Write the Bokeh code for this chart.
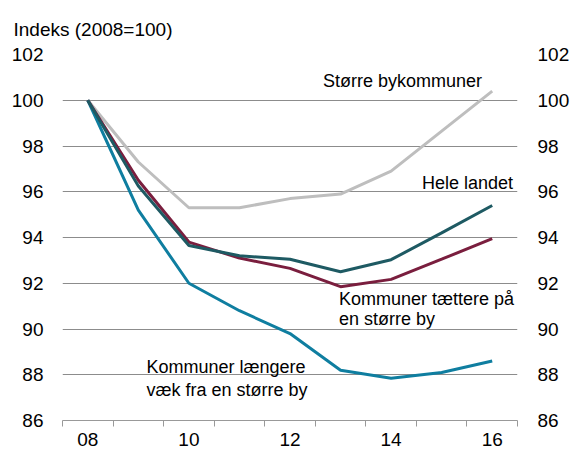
from bokeh.plotting import figure
from bokeh.models import Range1d, LinearAxis, FixedTicker, Label
from bokeh.embed import file_html
from bokeh.resources import INLINE

years = [2008, 2009, 2010, 2011, 2012, 2013, 2014, 2015, 2016]
storre_bykommuner = [100, 97.3, 95.3, 95.3, 95.7, 95.9, 96.9, 98.65, 100.4]
hele_landet = [100, 96.25, 93.65, 93.2, 93.05, 92.5, 93.03, 94.2, 95.4]
taettere = [100, 96.5, 93.8, 93.1, 92.65, 91.85, 92.17, 93.05, 93.95]
laengere = [100, 95.2, 92.0, 90.8, 89.8, 88.2, 87.85, 88.1, 88.6]

x_tick_values = [2008, 2010, 2012, 2014, 2016]
x_tick_labels = ["08", "10", "12", "14", "16"]
y_ticks = [86, 88, 90, 92, 94, 96, 98, 100, 102]

FONT = "Liberation Sans"

p = figure(frame_width=455, frame_height=366, output_backend="svg", toolbar_location=None,
           x_range=Range1d(2007.5, 2016.5), y_range=Range1d(86, 102),
           min_border_left=62, min_border_right=0, min_border_top=54, min_border_bottom=0,
           title="Indeks (2008=100)")
p.outline_line_color = None
p.background_fill_color = "white"
p.border_fill_color = "white"

p.title.text_font = FONT
p.title.text_font_size = "19px"
p.title.text_font_style = "normal"
p.title.text_color = "black"
p.title.align = "left"
p.title.offset = -49
p.title.standoff = 30

# grid
p.xgrid.grid_line_color = None
p.ygrid.ticker = FixedTicker(ticks=y_ticks)
p.ygrid.grid_line_color = "#8c8c8c"
p.ygrid.grid_line_width = 1

# x axis
xa = p.xaxis[0]
xa.ticker = FixedTicker(ticks=x_tick_values, minor_ticks=[y + 0.5 for y in range(2007, 2017)])
xa.major_label_overrides = {v: l for v, l in zip(x_tick_values, x_tick_labels)}
xa.major_tick_out = 0
xa.major_tick_in = 0
xa.minor_tick_out = 6
xa.minor_tick_in = 0
xa.minor_tick_line_color = "#999999"
xa.axis_line_color = "#999999"
xa.major_label_text_font = FONT
xa.major_label_text_font_size = "19px"
xa.major_label_text_color = "black"
xa.major_label_standoff = 6

# y axes
ya = p.yaxis[0]
ya.ticker = FixedTicker(ticks=y_ticks)
ya.axis_line_color = None
ya.major_tick_line_color = None
ya.major_tick_out = 0
ya.major_tick_in = 0
ya.minor_tick_line_color = None
ya.major_label_text_font = FONT
ya.major_label_text_font_size = "19px"
ya.major_label_text_color = "black"
ya.major_label_standoff = 19

ra = LinearAxis(ticker=FixedTicker(ticks=y_ticks))
ra.axis_line_color = None
ra.major_tick_line_color = None
ra.major_tick_out = 0
ra.major_tick_in = 0
ra.minor_tick_line_color = None
ra.major_label_text_font = FONT
ra.major_label_text_font_size = "19px"
ra.major_label_text_color = "black"
ra.major_label_standoff = 20
p.add_layout(ra, "right")

p.line(years, storre_bykommuner, line_color="#bebebe", line_width=3)
p.line(years, laengere, line_color="#0f7ea0", line_width=3)
p.line(years, taettere, line_color="#7a1e3e", line_width=3)
p.line(years, hele_landet, line_color="#1e5a63", line_width=3)

labels = [
    ("Større bykommuner", 2015.8, 100.82, "right"),
    ("Hele landet", 2016.41, 96.37, "right"),
    ("Kommuner tættere på", 2012.97, 91.30, "left"),
    ("en større by", 2012.97, 90.43, "left"),
    ("Kommuner længere", 2009.16, 88.33, "left"),
    ("væk fra en større by", 2009.16, 87.33, "left"),
]
for t, x, y, al in labels:
    p.add_layout(Label(x=x, y=y, text=t, text_align=al, text_baseline="middle",
                       text_font=FONT, text_font_size="18px", text_color="black"))

open("out.html", "w").write(file_html(p, INLINE))
